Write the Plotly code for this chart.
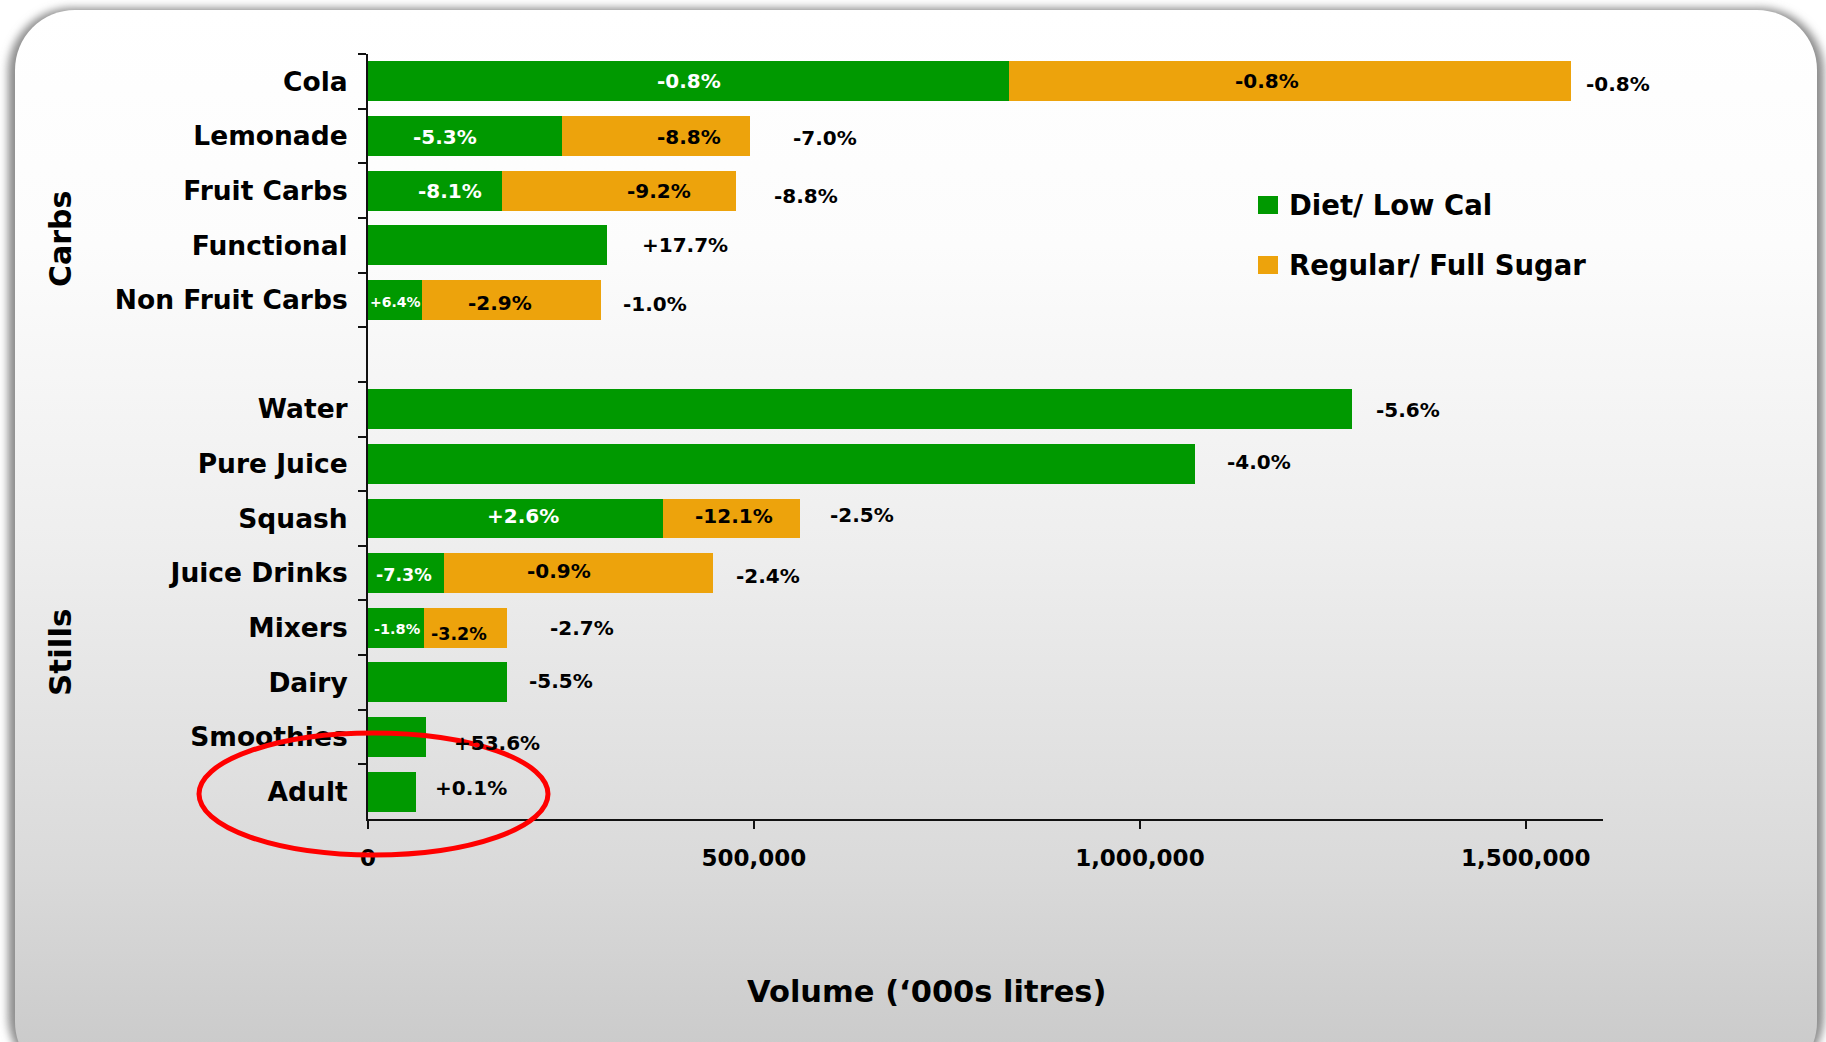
import base64
import plotly.graph_objects as go

# ---------------- data ----------------
categories = ["Cola", "Lemonade", "Fruit Carbs", "Functional", "Non Fruit Carbs", " ",
              "Water", "Pure Juice", "Squash", "Juice Drinks", "Mixers", "Dairy",
              "Smoothies", "Adult"]
diet_volume = [830700, 251100, 173800, 309800, 69900, None,
               1274900, 1071700, 381800, 98800, 72800, 179800, 75100, 62400]
regular_volume = [727700, 243700, 302500, None, 232500, None,
                  None, None, 177600, 347700, 107000, None, None, None]
diet_change = ["-0.8%", "-5.3%", "-8.1%", "", "+6.4%", "", "", "", "+2.6%", "-7.3%", "-1.8%", "", "", ""]
regular_change = ["-0.8%", "-8.8%", "-9.2%", "", "-2.9%", "", "", "", "-12.1%", "-0.9%", "-3.2%", "", "", ""]
total_change = ["-0.8%", "-7.0%", "-8.8%", "+17.7%", "-1.0%", "", "-5.6%", "-4.0%", "-2.5%",
                "-2.4%", "-2.7%", "-5.5%", "+53.6%", "+0.1%"]
x_ticks = [0, 500000, 1000000, 1500000]
series_names = ["Diet/ Low Cal", "Regular/ Full Sugar"]
group_names = ["Carbs", "Stills"]

# ---------------- styles / label nudges ----------------
GREEN = "#009900"
ORANGE = "#EDA30C"
FONT = "DejaVu Sans"
diet_lbl_dx = [0, -20, 15, 0, 1, 0, 0, 0, 8, -2, 1, 0, 0, 0]
diet_lbl_dy = [0, -1, 0, 0, -2, 0, 0, 0, 2, -2, -1, 0, 0, 0]
diet_lbl_size = [20, 20, 20, 20, 14, 20, 20, 20, 20, 17.5, 14.5, 20, 20, 20]
reg_lbl_dx = [-23, 33, 40, 0, -12, 0, 0, 0, 3, -19, -6, 0, 0, 0]
reg_lbl_dy = [0, -1, 0, 0, -3, 0, 0, 0, 2.5, 2.4, -6.6, 0, 0, 0]
reg_lbl_size = [20, 20, 20, 20, 20, 20, 20, 20, 20, 20, 17.5, 20, 20, 20]
tot_lbl_dx = [13, 41, 36, 33, 20, 0, 22, 30, 28, 21, 41, 20, 26, 17]
tot_lbl_dy = [-3, -2, -5, 0, -4, 0, -1, 2, 3, -3, 0, 1, -6, 4]

W, H = 1826, 1042
ML, MR, MT, MB = 368, 223, 54, 223
PW, PH = W - ML - MR, H - MT - MB


def px(x):
    return (x - ML) / PW


def py(y):
    return (H - MB - y) / PH


fig = go.Figure()
fig.add_trace(go.Bar(y=categories, x=diet_volume, orientation="h", name=series_names[0],
                     marker=dict(color=GREEN, line=dict(width=0)), showlegend=False))
fig.add_trace(go.Bar(y=categories, x=regular_volume, orientation="h", name=series_names[1],
                     marker=dict(color=ORANGE, line=dict(width=0)), showlegend=False))

annotations = []
for i, cat in enumerate(categories):
    d = diet_volume[i] or 0
    r = regular_volume[i] or 0
    if diet_change[i]:
        annotations.append(dict(x=d / 2, y=cat, xref="x", yref="y", text=diet_change[i],
                                showarrow=False, xanchor="center", yanchor="middle",
                                xshift=diet_lbl_dx[i], yshift=diet_lbl_dy[i],
                                font=dict(family=FONT, size=diet_lbl_size[i], color="white", weight="bold")))
    if regular_change[i]:
        annotations.append(dict(x=d + r / 2, y=cat, xref="x", yref="y", text=regular_change[i],
                                showarrow=False, xanchor="center", yanchor="middle",
                                xshift=reg_lbl_dx[i], yshift=reg_lbl_dy[i],
                                font=dict(family=FONT, size=reg_lbl_size[i], color="black", weight="bold")))
    if total_change[i]:
        annotations.append(dict(x=d + r, y=cat, xref="x", yref="y", text=total_change[i],
                                showarrow=False, xanchor="left", yanchor="middle",
                                xshift=tot_lbl_dx[i], yshift=tot_lbl_dy[i],
                                font=dict(family=FONT, size=20, color="black", weight="bold")))

# group labels
annotations.append(dict(x=px(60), y=py(239), xref="paper", yref="paper", text=group_names[0],
                        textangle=-90, showarrow=False, xanchor="center", yanchor="middle",
                        font=dict(family=FONT, size=30, color="black", weight="bold")))
annotations.append(dict(x=px(60), y=py(653), xref="paper", yref="paper", text=group_names[1],
                        textangle=-90, showarrow=False, xanchor="center", yanchor="middle",
                        font=dict(family=FONT, size=31, color="black", weight="bold")))
# x axis title
annotations.append(dict(x=px(926), y=py(991), xref="paper", yref="paper",
                        text="Volume (\u2018000s litres)", showarrow=False,
                        xanchor="center", yanchor="middle",
                        font=dict(family=FONT, size=30.5, color="black", weight="bold")))

# manual legend
shapes = []
legend_rows = [(series_names[0], GREEN, 205), (series_names[1], ORANGE, 265)]
for name, col, yc in legend_rows:
    shapes.append(dict(type="rect", xref="paper", yref="paper",
                       x0=px(1258), x1=px(1278), y0=py(yc - 9), y1=py(yc + 9),
                       fillcolor=col, line=dict(width=0)))
    annotations.append(dict(x=px(1287), y=py(yc), xref="paper", yref="paper", text=name,
                            showarrow=False, xanchor="left", yanchor="middle",
                            font=dict(family=FONT, size=27.5, color="black", weight="bold")))

# red ellipse highlight
shapes.append(dict(type="circle", xref="paper", yref="paper",
                   x0=px(199), x1=px(548), y0=py(855), y1=py(733),
                   line=dict(color="#FF0000", width=5), layer="above"))

# background panel (rounded, vertical gradient)
svg = f"""<svg xmlns='http://www.w3.org/2000/svg' width='{W}' height='{H}' viewBox='0 0 {W} {H}'>
<defs>
<linearGradient id='g' x1='0' y1='0' x2='0' y2='1'>
<stop offset='0' stop-color='#ffffff'/>
<stop offset='0.22' stop-color='#fcfcfc'/>
<stop offset='0.5' stop-color='#eeeeee'/>
<stop offset='0.8' stop-color='#dadada'/>
<stop offset='1' stop-color='#c8c8c8'/>
</linearGradient>
<filter id='s' x='-5%' y='-5%' width='110%' height='110%'><feGaussianBlur stdDeviation='4'/></filter>
</defs>
<rect x='0' y='0' width='{W}' height='{H}' fill='#ffffff'/>
<rect x='8' y='8' width='{W-10}' height='{H+30}' rx='64' fill='#8c8c8c' filter='url(#s)'/>
<rect x='15' y='10' width='{W-24}' height='{H+30}' rx='60' fill='url(#g)'/>
</svg>"""
src = "data:image/svg+xml;base64," + base64.b64encode(svg.encode()).decode()

fig.update_layout(
    width=W, height=H,
    margin=dict(l=ML, r=MR, t=MT, b=MB, autoexpand=False),
    barmode="stack", bargap=0.27,
    paper_bgcolor="white", plot_bgcolor="rgba(0,0,0,0)",
    font=dict(family=FONT, color="black", weight="bold"),
    showlegend=False,
    annotations=annotations,
    shapes=shapes,
    images=[dict(source=src, xref="paper", yref="paper", x=px(0), y=py(0),
                 sizex=W / PW, sizey=H / PH, xanchor="left", yanchor="top",
                 sizing="stretch", layer="below")],
    xaxis=dict(range=[0, 1600000], tickvals=x_ticks, tickformat=",d",
               showline=True, linecolor="#111111", linewidth=2,
               ticks="outside", ticklen=8, tickwidth=1.5, tickcolor="#111111",
               showgrid=False, zeroline=False, automargin=False,
               tickfont=dict(family=FONT, size=23, color="black", weight="bold"),
               ticklabelstandoff=9),
    yaxis=dict(type="category", categoryorder="array", categoryarray=categories,
               autorange="reversed", showline=True, linecolor="#111111", linewidth=2,
               ticks="outside", ticklen=8, tickwidth=1.5, tickcolor="#111111",
               tickson="boundaries", showgrid=False, zeroline=False, automargin=False,
               tickfont=dict(family=FONT, size=26.5, color="black", weight="bold"),
               ticklabelstandoff=13),
)

fig.write_html("out.html")
